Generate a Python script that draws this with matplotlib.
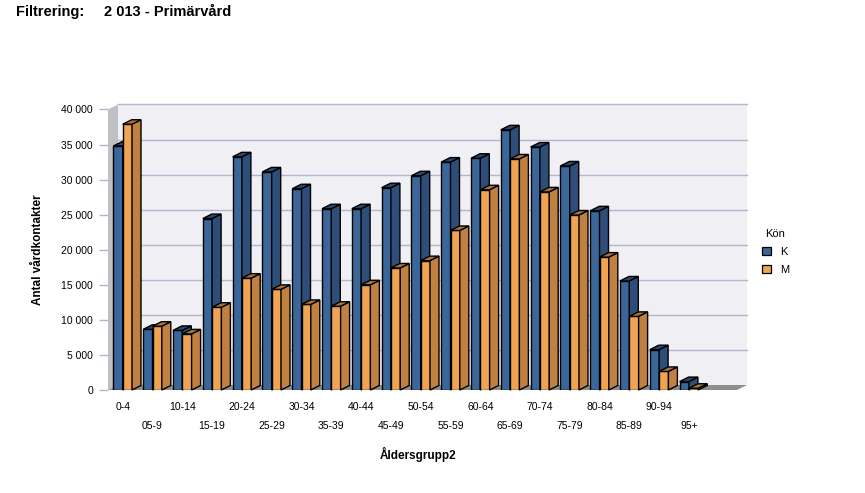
import matplotlib
matplotlib.use("Agg")
import matplotlib.pyplot as plt
from matplotlib.patches import Polygon, Rectangle, Patch
from matplotlib.ticker import FuncFormatter

plt.rcParams['font.family'] = ['Liberation Sans', 'DejaVu Sans']

# Data
groups = ["0-4", "05-9", "10-14", "15-19", "20-24", "25-29", "30-34", "35-39",
          "40-44", "45-49", "50-54", "55-59", "60-64", "65-69", "70-74", "75-79",
          "80-84", "85-89", "90-94", "95+"]
kvinnor = [34800, 8650, 8500, 24450, 33250, 31100, 28700, 25850, 25850, 28850,
           30550, 32500, 33050, 37100, 34650, 31950, 25550, 15550, 5750, 1200]
man = [37900, 9100, 8000, 11800, 15950, 14350, 12200, 11950, 15000, 17400,
       18450, 22750, 28550, 32950, 28250, 24950, 18950, 10500, 2650, 250]
series_names = ["K", "M"]

# Colours
K_FRONT, K_SIDE, K_TOP = "#3b6699", "#2e4e79", "#2a476e"
M_FRONT, M_SIDE, M_TOP = "#f0a453", "#c08042", "#a8733c"
WALL = "#efeff4"
SIDE_WALL = "#c0c0c4"
FLOOR = "#8e8e8e"
GRID = "#b4b4d0"

W, H = 865, 493
fig = plt.figure(figsize=(W / 100, H / 100), dpi=100)

# front plane of the 3D box, in pixels
left_px, right_px, top_px, bottom_px = 108, 737, 109.5, 390
ax = fig.add_axes([left_px / W, (H - bottom_px) / H,
                   (right_px - left_px) / W, (bottom_px - top_px) / H])

pitch = 29.8
x0 = (left_px - 122.7) / pitch
x1 = (right_px - 122.7) / pitch
ymax = 40000
ax.set_xlim(x0, x1)
ax.set_ylim(0, ymax)

ux = 1 / pitch                         # data units per pixel in x
uy = ymax / (bottom_px - top_px)       # data units per pixel in y

# walls and floor
wdx, wdy = 10 * ux, 5 * uy
ax.add_patch(Rectangle((x0 + wdx, wdy), x1 - x0, ymax, facecolor=WALL,
                       edgecolor="none", zorder=0, clip_on=False))
ax.add_patch(Polygon([(x0, 0), (x0, ymax), (x0 + wdx, ymax + wdy), (x0 + wdx, wdy)],
                     closed=True, facecolor=SIDE_WALL, edgecolor="none",
                     zorder=0.5, clip_on=False))
ax.add_patch(Polygon([(x0, 0), (x1, 0), (x1 + wdx, wdy), (x0 + wdx, wdy)],
                     closed=True, facecolor=FLOOR, edgecolor="none",
                     zorder=0.5, clip_on=False))
for v in range(5000, ymax + 1, 5000):
    ax.plot([x0 + wdx, x1 + wdx], [v + wdy, v + wdy], color=GRID, lw=1,
            zorder=1, clip_on=False)

# 3D bars
bw = 9.3 * ux
bdx, bdy = 9 * ux, 4.5 * uy
pos = list(range(len(groups)))


def draw_bars(xs, vals, front, side, top, z):
    ax.bar(xs, vals, width=bw, align="edge", color=front, edgecolor="black",
           linewidth=1.0, zorder=z)
    for x, v in zip(xs, vals):
        ax.add_patch(Polygon([(x + bw, 0), (x + bw, v), (x + bw + bdx, v + bdy),
                              (x + bw + bdx, bdy)], closed=True, facecolor=side,
                             edgecolor="black", linewidth=1.0, zorder=z,
                             clip_on=False))
        ax.add_patch(Polygon([(x, v), (x + bw, v), (x + bw + bdx, v + bdy),
                              (x + bdx, v + bdy)], closed=True, facecolor=top,
                             edgecolor="black", linewidth=1.0, zorder=z,
                             clip_on=False))


draw_bars([p - bw for p in pos], kvinnor, K_FRONT, K_SIDE, K_TOP, 3)
draw_bars(pos, man, M_FRONT, M_SIDE, M_TOP, 4)

# axes styling
for s in ax.spines.values():
    s.set_visible(False)
ax.set_yticks(range(0, ymax + 1, 5000))
ax.yaxis.set_major_formatter(FuncFormatter(lambda v, p: f"{int(v):,}".replace(",", " ")))
ax.tick_params(axis="y", length=6.5, color=GRID, width=1, pad=4.3, labelsize=7.5)
ax.set_xticks(pos)
ax.set_xticklabels(groups)
ax.tick_params(axis="x", length=0, labelsize=7.5, pad=9)
for i, t in enumerate(ax.xaxis.get_major_ticks()):
    if i % 2 == 1:
        t.set_pad(22)

ax.set_ylabel("Antal vårdkontakter", fontsize=8.5, fontweight="bold")
ax.yaxis.set_label_coords((44 - left_px) / (right_px - left_px), 0.5)
ax.set_xlabel("Åldersgrupp2", fontsize=8.5, fontweight="bold")
ax.xaxis.set_label_coords((418 - left_px) / (right_px - left_px),
                          -(447 - bottom_px) / (bottom_px - top_px))

fig.text(16 / W, 1 - 12 / H, "Filtrering:", fontsize=10.5, fontweight="bold", va="center")
fig.text(104 / W, 1 - 12 / H, "2 013 - Primärvård", fontsize=10.5, fontweight="bold", va="center")

handles = [Patch(facecolor=K_FRONT, edgecolor="black", linewidth=0.9),
           Patch(facecolor=M_FRONT, edgecolor="black", linewidth=0.9)]
fig.legend(handles, series_names, title="Kön", loc="upper left",
           bbox_to_anchor=(752 / W, 1 - 219 / H), frameon=False, fontsize=8,
           title_fontsize=8, handlelength=0.8, handleheight=0.8,
           handletextpad=0.8, labelspacing=0.7)

fig.savefig("out.png", dpi=100)
